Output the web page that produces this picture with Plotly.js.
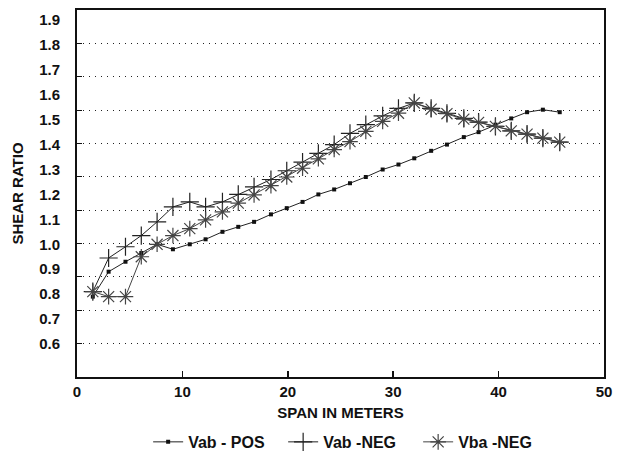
<!DOCTYPE html>
<html>
<head>
<meta charset="utf-8">
<script src="https://cdn.plot.ly/plotly-3.0.1.min.js"></script>
<style>
html,body{margin:0;padding:0;background:#fff;}
#chart{width:621px;height:459px;}
</style>
</head>
<body>
<div id="chart"></div>
<script>
// Span in meters (x positions shared by all three series)
const span = [1.5, 3.0, 4.6, 6.1, 7.6, 9.1, 10.7, 12.2, 13.8, 15.3,
              16.8, 18.4, 19.9, 21.4, 22.9, 24.4, 25.9, 27.4, 29.0, 30.5,
              32.0, 33.6, 35.1, 36.7, 38.1, 39.7, 41.2, 42.7, 44.2, 45.8];

const vabPos = [0.79, 0.89, 0.93, 0.965, 1.00, 0.98, 1.00, 1.02, 1.05, 1.07,
                1.09, 1.12, 1.145, 1.17, 1.20, 1.22, 1.245, 1.27, 1.30, 1.32,
                1.345, 1.375, 1.40, 1.43, 1.45, 1.48, 1.505, 1.53, 1.54, 1.53];

const vabNeg = [0.81, 0.945, 0.99, 1.035, 1.09, 1.15, 1.17, 1.15, 1.17, 1.20,
                1.23, 1.26, 1.295, 1.33, 1.365, 1.40, 1.445, 1.48, 1.515, 1.545,
                1.567, 1.545, 1.525, 1.505, 1.49, 1.473, 1.455, 1.442, 1.426, 1.41];

const vbaNeg = [0.81, 0.79, 0.79, 0.95, 1.00, 1.035, 1.063, 1.098, 1.13, 1.165,
                1.198, 1.235, 1.27, 1.305, 1.343, 1.38, 1.412, 1.453, 1.493, 1.526,
                1.567, 1.542, 1.524, 1.502, 1.489, 1.473, 1.455, 1.442, 1.426, 1.41];

const seriesNames = ['Vab - POS', 'Vab -NEG', 'Vba -NEG'];

const yTickVals = [0.6, 0.7, 0.8, 0.9, 1.0, 1.1, 1.2, 1.3, 1.4, 1.5, 1.6, 1.7, 1.8, 1.9];
const yTickText = ['0.6', '0.7', '0.8', '0.9', '1.0', '1.1', '1.2', '1.3', '1.4', '1.5', '1.6', '1.7', '1.8', '1.9'];
const xTickVals = [0, 10, 20, 30, 40, 50];

const FONT = '"Liberation Sans", Arial, sans-serif';

const traces = [
  {
    x: span, y: vabPos, name: seriesNames[0], type: 'scatter', mode: 'lines+markers',
    line: {color: '#222', width: 1},
    marker: {symbol: 'square', size: 4, color: '#111'}
  },
  {
    x: span, y: vabNeg, name: seriesNames[1], type: 'scatter', mode: 'lines+markers',
    line: {color: '#222', width: 1},
    marker: {symbol: 'cross-thin-open', size: 13, line: {color: '#111', width: 1.2}}
  },
  {
    x: span, y: vbaNeg, name: seriesNames[2], type: 'scatter', mode: 'lines+markers',
    line: {color: '#444', width: 1},
    marker: {symbol: 'asterisk-open', size: 13, line: {color: '#333', width: 1.2}}
  },
  // invisible trace to activate the grid overlay axis
  {x: [0], y: [0], xaxis: 'x', yaxis: 'y2', mode: 'markers', marker: {opacity: 0}, showlegend: false, hoverinfo: 'skip'}
];

const layout = {
  width: 621, height: 459,
  margin: {l: 77, r: 17, t: 10, b: 82, autoexpand: false},
  paper_bgcolor: '#fff', plot_bgcolor: '#fff',
  font: {family: FONT, color: '#111', size: 15, weight: 'bold'},
  showlegend: true,
  legend: {
    orientation: 'h', x: 0.135, xanchor: 'left', y: -0.177, yanchor: 'middle',
    entrywidth: 90, entrywidthmode: 'pixels', itemwidth: 30,
    font: {family: FONT, size: 16, color: '#111', weight: 'bold'}, bgcolor: 'rgba(0,0,0,0)'
  },
  xaxis: {
    range: [0, 50], tickvals: xTickVals, ticks: 'inside', ticklen: 6, tickwidth: 1.5, tickcolor: '#111',
    showgrid: false, zeroline: false, showline: true, linecolor: '#111', linewidth: 2, mirror: true,
    tickfont: {family: FONT, size: 15, color: '#111', weight: 'bold'},
    title: {text: 'SPAN IN METERS', font: {family: FONT, size: 15, color: '#111', weight: 'bold'}, standoff: 8}
  },
  yaxis: {
    range: [0.4675, 1.94], tickvals: yTickVals, ticktext: yTickText, ticks: '',
    showgrid: false, zeroline: false, showline: true, linecolor: '#111', linewidth: 2, mirror: true,
    tickfont: {family: FONT, size: 15, color: '#111', weight: 'bold'}, ticklabelstandoff: 12,
    title: {text: 'SHEAR RATIO', font: {family: FONT, size: 15, color: '#111', weight: 'bold'}, standoff: 12}
  },
  yaxis2: {
    overlaying: 'y', side: 'left', range: [0, 11], dtick: 1, tick0: 0,
    showticklabels: false, ticks: 'inside', ticklen: 5, tickcolor: '#111',
    showgrid: true, gridcolor: '#222', gridwidth: 1, griddash: '1px,5px',
    zeroline: false, showline: false
  }
};

Plotly.newPlot('chart', traces, layout, {displayModeBar: false, staticPlot: true});
</script>
</body>
</html>
